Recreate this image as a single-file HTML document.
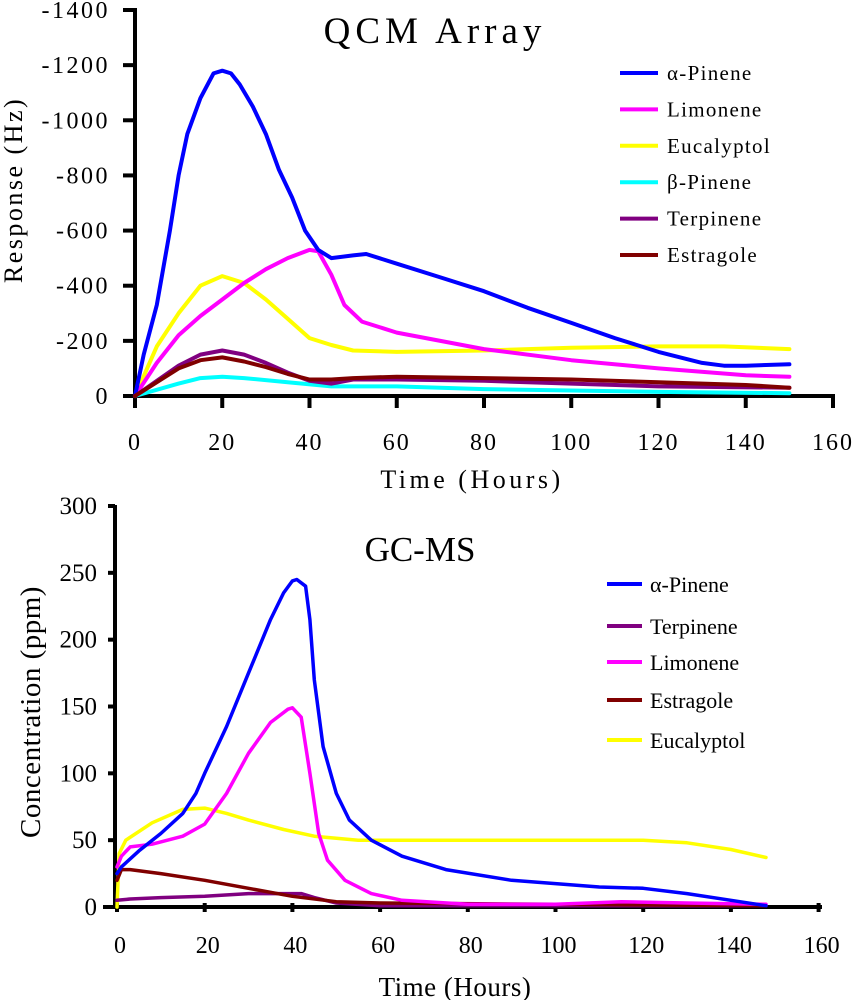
<!DOCTYPE html>
<html><head><meta charset="utf-8"><style>
html,body{margin:0;padding:0;background:#fff;}
svg{display:block;font-family:"Liberation Serif",serif;}
</style></head><body>
<svg id="chart" width="859" height="1000" viewBox="0 0 859 1000" xmlns="http://www.w3.org/2000/svg">
<g id="topG"></g>
<g id="botG"></g>
</svg>
<script>
// ---- QCM Array data ----
const qcmNames = ["α-Pinene","Limonene","Eucalyptol","β-Pinene","Terpinene","Estragole"];
const qcmColors = ["#0000ff","#ff00ff","#ffff00","#00ffff","#800080","#800000"];
const qcmAlphaT = [0,2,5,8,10,12,15,18,20,22,24,27,30,33,36,39,42,45,50,53,60,70,80,90,100,110,120,130,135,140,150];
const qcmAlphaV = [0,-150,-330,-600,-800,-950,-1080,-1170,-1180,-1170,-1130,-1050,-950,-820,-720,-600,-530,-500,-510,-515,-480,-430,-380,-320,-265,-210,-160,-120,-110,-110,-115];
const qcmLimT = [0,5,10,15,20,25,30,35,40,42,45,48,52,60,70,80,100,120,140,150];
const qcmLimV = [0,-120,-220,-290,-350,-410,-460,-500,-530,-525,-440,-330,-270,-230,-200,-170,-130,-100,-75,-70];
const qcmEucT = [0,5,10,15,20,25,30,35,40,45,50,60,80,100,120,135,150];
const qcmEucV = [0,-180,-300,-400,-435,-410,-350,-280,-210,-185,-165,-160,-165,-175,-180,-180,-170];
const qcmBetaT = [0,10,15,20,25,35,45,60,80,100,120,150];
const qcmBetaV = [0,-45,-65,-70,-65,-50,-35,-35,-25,-20,-15,-10];
const qcmTerT = [0,10,15,20,25,30,35,40,45,50,60,80,100,120,150];
const qcmTerV = [0,-110,-150,-165,-150,-120,-85,-55,-45,-60,-60,-55,-45,-35,-30];
const qcmEstT = [0,10,15,20,25,30,35,40,45,50,60,80,100,120,140,150];
const qcmEstV = [0,-100,-130,-140,-125,-105,-80,-60,-60,-65,-70,-65,-60,-50,-40,-30];
const qcmXTicks = [0,20,40,60,80,100,120,140,160];
const qcmYTicks = [0,-200,-400,-600,-800,-1000,-1200,-1400];

// ---- GC-MS data ----
const gcNames = ["α-Pinene","Terpinene","Limonene","Estragole","Eucalyptol"];
const gcColors = ["#0000ff","#800080","#ff00ff","#800000","#ffff00"];
const gcAlphaT = [0,1,5,10,15,18,20,25,30,35,38,40,41,43,44,45,47,50,53,58,65,75,90,110,120,130,140,148];
const gcAlphaV = [25,30,42,55,70,85,100,135,175,215,235,244,245,240,215,170,120,85,65,50,38,28,20,15,14,10,5,1];
const gcTerT = [0,3,10,20,30,38,42,45,50,60,100,148];
const gcTerV = [5,6,7,8,10,10,10,7,3,1,1,1];
const gcLimT = [0,1,3,8,15,20,25,30,35,39,40,42,44,46,48,52,58,65,80,100,115,130,148];
const gcLimV = [30,38,45,47,53,62,85,115,138,148,149,142,100,55,35,20,10,5,2,2,4,3,2];
const gcEstT = [0,1,3,10,20,30,40,50,60,100,148];
const gcEstV = [20,28,28,25,20,14,8,4,3,2,1];
const gcEucT = [0,0.5,2,8,15,20,25,30,38,45,55,80,110,120,130,140,148];
const gcEucV = [0,40,50,63,73,74,70,65,58,53,50,50,50,50,48,43,37];
const gcXTicks = [0,20,40,60,80,100,120,140,160];
const gcYTicks = [0,50,100,150,200,250,300];

const NS="http://www.w3.org/2000/svg";
function mk(parent,tag,attrs,text){const e=document.createElementNS(NS,tag);for(const k in attrs)e.setAttribute(k,attrs[k]);if(text!==undefined)e.textContent=text;parent.appendChild(e);return e;}

const tx = t => 135 + t*(833-135)/160;
const ty = v => 396 - v/(-1400)*(396-10);
const bx = t => 117 + t*(87.7/20);
const by = v => 907 - v*(907-506)/300;

const topG=document.getElementById('topG');
const botG=document.getElementById('botG');

function path(g,T,V,fx,fy,color,w,name){
  let d="";for(let i=0;i<T.length;i++)d+=(i?"L":"M")+fx(T[i]).toFixed(1)+" "+fy(V[i]).toFixed(1);
  const p=mk(g,'path',{d:d,fill:'none',stroke:color,'stroke-width':w,'stroke-linejoin':'round','stroke-linecap':'round'});
  
  
}

// ---- TOP axes ----
let ax=mk(topG,'line',{x1:135,y1:8,x2:135,y2:400,stroke:'#000','stroke-width':4});


ax=mk(topG,'line',{x1:123,y1:396,x2:835,y2:396,stroke:'#000','stroke-width':4});


qcmYTicks.forEach(v=>{
  const l=mk(topG,'line',{x1:123,y1:ty(v),x2:135,y2:ty(v),stroke:'#000','stroke-width':4});
  
  
  const t=mk(topG,'text',{x:110,y:ty(v)+8,'text-anchor':'end','font-size':24,'letter-spacing':2.5},String(v));
  
  
});
qcmXTicks.forEach(v=>{
  const l=mk(topG,'line',{x1:tx(v),y1:396,x2:tx(v),y2:408,stroke:'#000','stroke-width':4});
  
  
  const t=mk(topG,'text',{x:tx(v),y:450,'text-anchor':'middle','font-size':24,'letter-spacing':2},String(v));
  
  
});
let tt=mk(topG,'text',{x:435,y:43,'text-anchor':'middle','font-size':37,'letter-spacing':5},'QCM Array');


tt=mk(topG,'text',{x:472,y:488,'text-anchor':'middle','font-size':26,'letter-spacing':3.5},'Time (Hours)');


tt=mk(topG,'text',{x:0,y:0,'text-anchor':'middle','font-size':26,'letter-spacing':2.5,transform:'translate(22,190) rotate(-90)'},'Response (Hz)');



const qT=[qcmAlphaT,qcmLimT,qcmEucT,qcmBetaT,qcmTerT,qcmEstT];
const qV=[qcmAlphaV,qcmLimV,qcmEucV,qcmBetaV,qcmTerV,qcmEstV];
[3,2,1,0,4,5].forEach(i=>path(topG,qT[i],qV[i],tx,ty,qcmColors[i],4,'qcm-line-'+i));
qcmNames.forEach((n,i)=>{
  const y=73+i*36.4;
  const l=mk(topG,'line',{x1:620,y1:y,x2:658,y2:y,stroke:qcmColors[i],'stroke-width':4});
  
  
  const t=mk(topG,'text',{x:667,y:y+7,'font-size':21,'letter-spacing':1.3},n);
  
  
});

// ---- BOTTOM axes ----
ax=mk(botG,'line',{x1:115,y1:505,x2:115,y2:909,stroke:'#000','stroke-width':4});


ax=mk(botG,'line',{x1:103,y1:907,x2:822,y2:907,stroke:'#000','stroke-width':4});


gcYTicks.forEach(v=>{
  const l=mk(botG,'line',{x1:108,y1:by(v),x2:115,y2:by(v),stroke:'#000','stroke-width':4});
  
  
  const t=mk(botG,'text',{x:97,y:by(v)+8,'text-anchor':'end','font-size':25},String(v));
  
  
});
gcXTicks.forEach(v=>{
  const l=mk(botG,'line',{x1:bx(v),y1:903,x2:bx(v),y2:912,stroke:'#000','stroke-width':4});
  
  
  const t=mk(botG,'text',{x:bx(v)+3,y:953,'text-anchor':'middle','font-size':24},String(v));
  
  
});
tt=mk(botG,'text',{x:420,y:561,'text-anchor':'middle','font-size':35},'GC-MS');


tt=mk(botG,'text',{x:455,y:996,'text-anchor':'middle','font-size':27,'letter-spacing':0.5},'Time (Hours)');


tt=mk(botG,'text',{x:0,y:0,'text-anchor':'middle','font-size':29,'letter-spacing':0.5,transform:'translate(40,712) rotate(-90)'},'Concentration (ppm)');



const gT=[gcAlphaT,gcTerT,gcLimT,gcEstT,gcEucT];
const gV=[gcAlphaV,gcTerV,gcLimV,gcEstV,gcEucV];
[4,1,3,2,0].forEach(i=>path(botG,gT[i],gV[i],bx,by,gcColors[i],3.5,'gcms-line-'+i));
gcNames.forEach((n,i)=>{
  const y=[584,626,662,700,740][i];
  const l=mk(botG,'line',{x1:607,y1:y,x2:642,y2:y,stroke:gcColors[i],'stroke-width':4});
  
  
  const t=mk(botG,'text',{x:650,y:y+8,'font-size':22},n);
  
  
});
</script>
</body></html>
